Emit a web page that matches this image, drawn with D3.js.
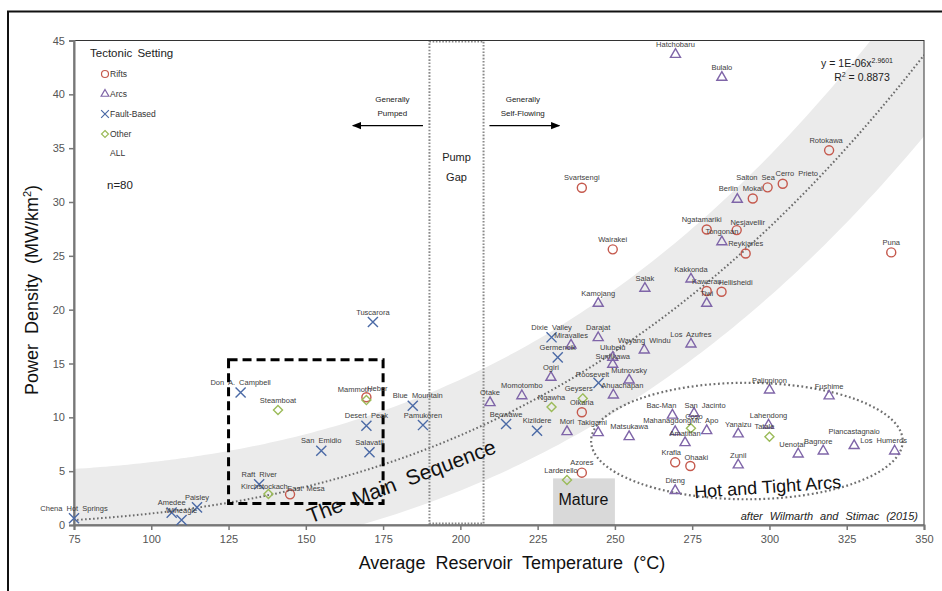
<!DOCTYPE html>
<html>
<head>
<meta charset="utf-8">
<script src="https://d3js.org/d3.v7.min.js"></script>
<style>
  body { margin: 0; background: #fff; }
  svg { font-family: "Liberation Sans", Arial, sans-serif; }
</style>
</head>
<body>
<svg width="942" height="591"></svg>
<script>
// sites by tectonic setting: [name, temperature (°C), power density (MW/km2)]
const rifts = [
  ["East Mesa", 144.9, 2.85], ["Mammoth", 169.6, 11.86], ["Olkaria", 239.3, 10.47],
  ["Azores", 239.3, 4.86], ["Krafla", 269.5, 5.82], ["Ohaaki", 274.4, 5.48],
  ["Svartsengi", 239.3, 31.32], ["Wairakei", 249.3, 25.6], ["Kawerau", 279.7, 21.73],
  ["Hellisheidi", 284.5, 21.66], ["Ngatamariki", 279.7, 27.45], ["Nesjavellir", 289.4, 27.39],
  ["Reykjanes", 292.3, 25.22], ["Mokai", 294.6, 30.33], ["Salton Sea", 299.4, 31.36],
  ["Cerro Prieto", 304.3, 31.69], ["Rotokawa", 319.3, 34.8], ["Puna", 339.4, 25.32]
]
const arcs = [
  ["Otake", 209.6, 11.36], ["Momotombo", 219.9, 12.0], ["Mori", 234.5, 8.66],
  ["Takigami", 244.6, 8.57], ["Ogiri", 229.3, 13.71], ["Miravalles", 235.8, 16.71],
  ["Darajat", 244.6, 17.39], ["Kamojang", 244.6, 20.58], ["Ulubelu", 249.3, 15.57],
  ["Sumikawa", 249.3, 14.92], ["Mutnovsky", 254.6, 13.46], ["Ahuachapan", 249.5, 12.07],
  ["Matsukawa", 254.6, 8.2], ["Wayang Windu", 259.5, 16.25], ["Los Azufres", 274.6, 16.8],
  ["Salak", 259.7, 21.98], ["Kakkonda", 274.6, 22.84], ["Tiwi", 279.7, 20.58],
  ["Tongonan", 284.6, 26.3], ["Berlin", 289.6, 30.24], ["Hatchobaru", 269.6, 43.7],
  ["Bulalo", 284.6, 41.57], ["Bac-Man", 268.6, 10.2], ["San Jacinto", 275.6, 10.37],
  ["Mahanagdong", 269.5, 8.66], ["Mt. Apo", 279.7, 8.76], ["Amatitlan", 272.7, 7.64],
  ["Yanaizu", 289.9, 8.45], ["Zunil", 289.9, 5.57], ["Dieng", 269.5, 3.19],
  ["Palinpinon", 300.0, 12.53], ["Fushime", 319.3, 11.98], ["Lahendong", 299.7, 9.28],
  ["Uenotai", 309.3, 6.59], ["Bagnore", 317.4, 6.87], ["Piancastagnaio", 327.4, 7.37],
  ["Los Humeros", 340.5, 6.87]
]
const faultBased = [
  ["Chena Hot Springs", 75.0, 0.62], ["Amedee", 106.6, 1.15], ["Wineagle", 109.8, 0.46],
  ["Paisley", 114.8, 1.64], ["Don A. Campbell", 128.9, 12.3], ["Raft River", 134.9, 3.78],
  ["San Emidio", 155.0, 6.9], ["Salavatli", 170.6, 6.75], ["Desert Peak", 169.6, 9.22],
  ["Blue Mountain", 184.6, 11.08], ["Pamukören", 187.9, 9.28], ["Tuscarora", 171.7, 18.85],
  ["Beowawe", 214.8, 9.38], ["Kizildere", 224.8, 8.76], ["Dixie Valley", 229.5, 17.43],
  ["Germencik", 231.5, 15.57], ["Roosevelt", 244.7, 13.2]
]
const other = [
  ["Kirchstockach", 137.9, 2.88], ["Steamboat", 141.0, 10.68], ["Heber", 169.6, 11.6],
  ["Ngawha", 229.5, 10.96], ["Geysers", 239.6, 11.76], ["Larderello", 234.5, 4.18],
  ["Coso", 274.6, 8.98], ["Tatale", 300.0, 8.2]
]

const xTicks = [75, 100, 125, 150, 175, 200, 225, 250, 275, 300, 325, 350]
const yTicks = [0, 5, 10, 15, 20, 25, 30, 35, 40, 45]

// power trendline as drawn (label shows y = 1E-06x^2.9601)
const trendA = 1.286e-6, trendB = 2.9601

// label nudges in px from the marker (default: centred 10px above)
const labelShift = {
  "East Mesa": [16, -6], "Mammoth": [-12, -8], "Krafla": [-4, -10], "Ohaaki": [6, -9],
  "Hellisheidi": [14, -9], "Ngatamariki": [-5, -10], "Nesjavellir": [11, -8],
  "Salton Sea": [-12, -10], "Cerro Prieto": [14, -10], "Rotokawa": [-3, -10],
  "Takigami": [-6, -10], "Sumikawa": [0, -8], "Ahuachapan": [9, -10], "Berlin": [-9, -11],
  "Bac-Man": [-11, -10], "San Jacinto": [11, -8], "Mahanagdong": [-8, -11], "Mt. Apo": [-2, -10],
  "Amatitlan": [0, -9], "Uenotai": [-6, -10], "Bagnore": [-5, -10], "Piancastagnaio": [0, -14],
  "Los Humeros": [-11, -11], "Blue Mountain": [5, -10], "Roosevelt": [-6, -9],
  "Kirchstockach": [-4, -8], "Heber": [11, -12], "Geysers": [-4, -10], "Larderello": [-6, -10],
  "Coso": [3, -12], "Tatale": [-5, -10]
}

const svg = d3.select('svg')

// outer frame of the figure
svg.append('path')
  .attr('d', 'M8,591 L8,11.5 L942,11.5')
  .attr('fill', 'none').attr('stroke', '#111').attr('stroke-width', 2)

const x = d3.scaleLinear().domain([75, 350]).range([74, 924])
const y = d3.scaleLinear().domain([0, 45]).range([525, 40.5])

svg.append('clipPath').attr('id', 'plot')
  .append('rect')
  .attr('x', x(75)).attr('y', y(45))
  .attr('width', x(350) - x(75)).attr('height', y(0) - y(45))

const trend = d3.range(60, 381, 2).map(function (t) { return [t, trendA * Math.pow(t, trendB)] })
const line = d3.line()
  .x(function (d) { return x(d[0]) })
  .y(function (d) { return y(d[1]) })
  .curve(d3.curveBasis)

const plot = svg.append('g').attr('clip-path', 'url(#plot)')

// the main sequence band
plot.append('path').datum(trend)
  .attr('fill', 'none').attr('stroke', '#ebebeb').attr('stroke-width', 102)
  .attr('d', line)

// mature box
plot.append('rect')
  .attr('x', x(230)).attr('y', y(4.33))
  .attr('width', x(250) - x(230)).attr('height', y(0) - y(4.33))
  .attr('fill', '#d9d9d9')

// trendline over the range of the data
plot.append('path').datum(trend.filter(function (d) { return d[0] >= 75 && d[0] <= 350 }))
  .attr('fill', 'none').attr('stroke', '#6b6b6b').attr('stroke-width', 2)
  .attr('stroke-dasharray', '1.6,2.4')
  .attr('d', line)

// pump gap
plot.append('rect')
  .attr('x', x(190)).attr('y', y(45) + 1)
  .attr('width', x(207.5) - x(190)).attr('height', y(0) - y(45) - 2.5)
  .attr('fill', 'none').attr('stroke', '#8a8a8a').attr('stroke-width', 2)
  .attr('stroke-dasharray', '1.6,1.6')

// hot and tight arcs ellipse
svg.append('ellipse')
  .attr('cx', x(292.7)).attr('cy', y(7.8))
  .attr('rx', x(343.1) - x(292.7)).attr('ry', y(0) - y(5.41))
  .attr('fill', 'none').attr('stroke', '#707070').attr('stroke-width', 2.2)
  .attr('stroke-dasharray', '1.8,2.6')

// dashed box of low temperature sites
svg.append('rect')
  .attr('x', x(125)).attr('y', y(15.35))
  .attr('width', x(175) - x(125)).attr('height', y(2) - y(15.35))
  .attr('fill', 'none').attr('stroke', '#000').attr('stroke-width', 3)
  .attr('stroke-dasharray', '9,5')

// plot frame and axes
svg.append('rect')
  .attr('x', x(75)).attr('y', y(45))
  .attr('width', x(350) - x(75)).attr('height', y(0) - y(45))
  .attr('fill', 'none').attr('stroke', '#333').attr('stroke-width', 1)

const xAxis = svg.append('g')
  .attr('transform', 'translate(0,' + y(0) + ')')
  .call(d3.axisBottom(x).tickValues(xTicks).tickSizeOuter(0).tickSize(5).tickPadding(5))
const yAxis = svg.append('g')
  .attr('transform', 'translate(' + x(75) + ',0)')
  .call(d3.axisLeft(y).tickValues(yTicks).tickSizeOuter(0).tickSize(5).tickPadding(4))

svg.selectAll('.domain').attr('stroke', '#777').attr('stroke-width', 2)
svg.selectAll('.tick line').attr('stroke', '#777').attr('stroke-width', 1.5)
svg.selectAll('.tick text').attr('fill', '#555').attr('font-size', 11)
  .attr('font-family', '"Liberation Sans", Arial, sans-serif')

// axis titles
svg.append('text')
  .attr('x', 512).attr('y', 569)
  .attr('text-anchor', 'middle').attr('font-size', 18).attr('fill', '#111')
  .attr('word-spacing', 5)
  .text('Average Reservoir Temperature (°C)')

const yt = svg.append('text')
  .attr('transform', 'translate(38,290) rotate(-90)')
  .attr('text-anchor', 'middle').attr('font-size', 18).attr('fill', '#111')
  .attr('word-spacing', 5)
yt.append('tspan').text('Power Density (MW/km')
yt.append('tspan').attr('font-size', 11).attr('dy', -7).text('2')
yt.append('tspan').attr('dy', 7).text(')')

// markers
const groups = [
  { data: rifts, type: d3.symbolCircle, size: 64, color: '#c5594d' },
  { data: arcs, type: d3.symbolTriangle2, size: 72, color: '#7f65a8' },
  { data: faultBased, type: d3.symbolX, size: 68, color: '#4b6aa6' },
  { data: other, type: d3.symbolDiamond2, size: 52, color: '#9bbb59' }
]

groups.forEach(function (g) {
  svg.append('g').selectAll('path')
    .data(g.data)
    .join('path')
    .attr('transform', function (d) { return 'translate(' + x(d[1]) + ',' + y(d[2]) + ')' })
    .attr('d', d3.symbol().type(g.type).size(g.size))
    .attr('fill', 'none').attr('stroke', g.color).attr('stroke-width', 1.4)
})

// site labels
const allSites = rifts.concat(arcs, faultBased, other)
svg.append('g').selectAll('text')
  .data(allSites)
  .join('text')
  .attr('x', function (d) { return x(d[1]) + (labelShift[d[0]] || [0, -10])[0] })
  .attr('y', function (d) { return y(d[2]) + (labelShift[d[0]] || [0, -10])[1] })
  .attr('dy', '0.35em')
  .attr('text-anchor', 'middle')
  .attr('font-size', 7.5).attr('fill', '#3d3d3d').attr('word-spacing', 2)
  .text(function (d) { return d[0] })

// legend
svg.append('text').attr('x', 90).attr('y', 57)
  .attr('font-size', 11.5).attr('fill', '#222').attr('word-spacing', 2)
  .text('Tectonic Setting')

const legend = svg.append('g').selectAll('g')
  .data(groups.map(function (g, i) { return { g: g, name: ['Rifts', 'Arcs', 'Fault-Based', 'Other'][i] } }))
  .join('g')
  .attr('transform', function (d, i) { return 'translate(105,' + (74 + i * 20) + ')' })
legend.append('path')
  .attr('d', function (d) { return d3.symbol().type(d.g.type).size(d.g.size * 0.6)() })
  .attr('fill', 'none').attr('stroke', function (d) { return d.g.color }).attr('stroke-width', 1.2)
legend.append('text')
  .attr('x', 5).attr('dy', '0.35em').attr('font-size', 8.5).attr('fill', '#333')
  .text(function (d) { return d.name })

svg.append('text').attr('x', 110).attr('y', 156).attr('font-size', 8.5).attr('fill', '#333').text('ALL')
svg.append('text').attr('x', 107).attr('y', 189).attr('font-size', 11.5).attr('fill', '#222').text('n=80')

// trendline equation
const eq = svg.append('text').attr('x', 893).attr('y', 67)
  .attr('text-anchor', 'end').attr('font-size', 10.5).attr('fill', '#222')
eq.append('tspan').text('y = 1E-06x')
eq.append('tspan').attr('font-size', 7).attr('dy', -4).text('2.9601')
const r2 = svg.append('text').attr('x', 862).attr('y', 81)
  .attr('text-anchor', 'middle').attr('font-size', 10.5).attr('fill', '#222')
r2.append('tspan').text('R')
r2.append('tspan').attr('font-size', 7).attr('dy', -4).text('2')
r2.append('tspan').attr('dy', 4).text(' = 0.8873')

// pumped / self-flowing annotations
svg.append('defs').append('marker')
  .attr('id', 'arrow').attr('viewBox', '0 0 10 10').attr('refX', 9).attr('refY', 5)
  .attr('markerWidth', 7).attr('markerHeight', 7).attr('orient', 'auto-start-reverse')
  .append('path').attr('d', 'M0,1 L10,5 L0,9 Z').attr('fill', '#000')

svg.append('line')
  .attr('x1', x(187.9)).attr('x2', x(165.2)).attr('y1', y(37.1)).attr('y2', y(37.1))
  .attr('stroke', '#000').attr('stroke-width', 1.3).attr('marker-end', 'url(#arrow)')
svg.append('line')
  .attr('x1', x(209.4)).attr('x2', x(232)).attr('y1', y(37.1)).attr('y2', y(37.1))
  .attr('stroke', '#000').attr('stroke-width', 1.3).attr('marker-end', 'url(#arrow)')

const notes = [
  ['Generally', 178.0, 39.58, 8], ['Pumped', 178.0, 38.23, 8],
  ['Generally', 220.2, 39.58, 8], ['Self-Flowing', 220.2, 38.23, 8],
  ['Pump', 198.75, 34.2, 11], ['Gap', 198.75, 32.3, 11]
]
svg.append('g').selectAll('text')
  .data(notes)
  .join('text')
  .attr('x', function (d) { return x(d[1]) })
  .attr('y', function (d) { return y(d[2]) })
  .attr('dy', '0.35em').attr('text-anchor', 'middle')
  .attr('font-size', function (d) { return d[3] }).attr('fill', '#222')
  .text(function (d) { return d[0] })

// region labels
svg.append('text')
  .attr('transform', 'translate(' + x(239.8) + ',' + y(2.39) + ')')
  .attr('dy', '0.35em').attr('text-anchor', 'middle').attr('font-size', 16).attr('fill', '#111')
  .text('Mature')

svg.append('text')
  .attr('transform', 'translate(404,488) rotate(-20.8)')
  .attr('text-anchor', 'middle').attr('font-size', 21).attr('fill', '#111').attr('word-spacing', 6)
  .text('The Main Sequence')

svg.append('text')
  .attr('transform', 'translate(768,493) rotate(-4)')
  .attr('text-anchor', 'middle').attr('font-size', 18).attr('fill', '#111')
  .text('Hot and Tight Arcs')

svg.append('text')
  .attr('x', 918).attr('y', 520).attr('text-anchor', 'end')
  .attr('font-size', 11).attr('font-style', 'italic').attr('fill', '#222').attr('word-spacing', 4)
  .text('after Wilmarth and Stimac (2015)')
</script>
</body>
</html>
